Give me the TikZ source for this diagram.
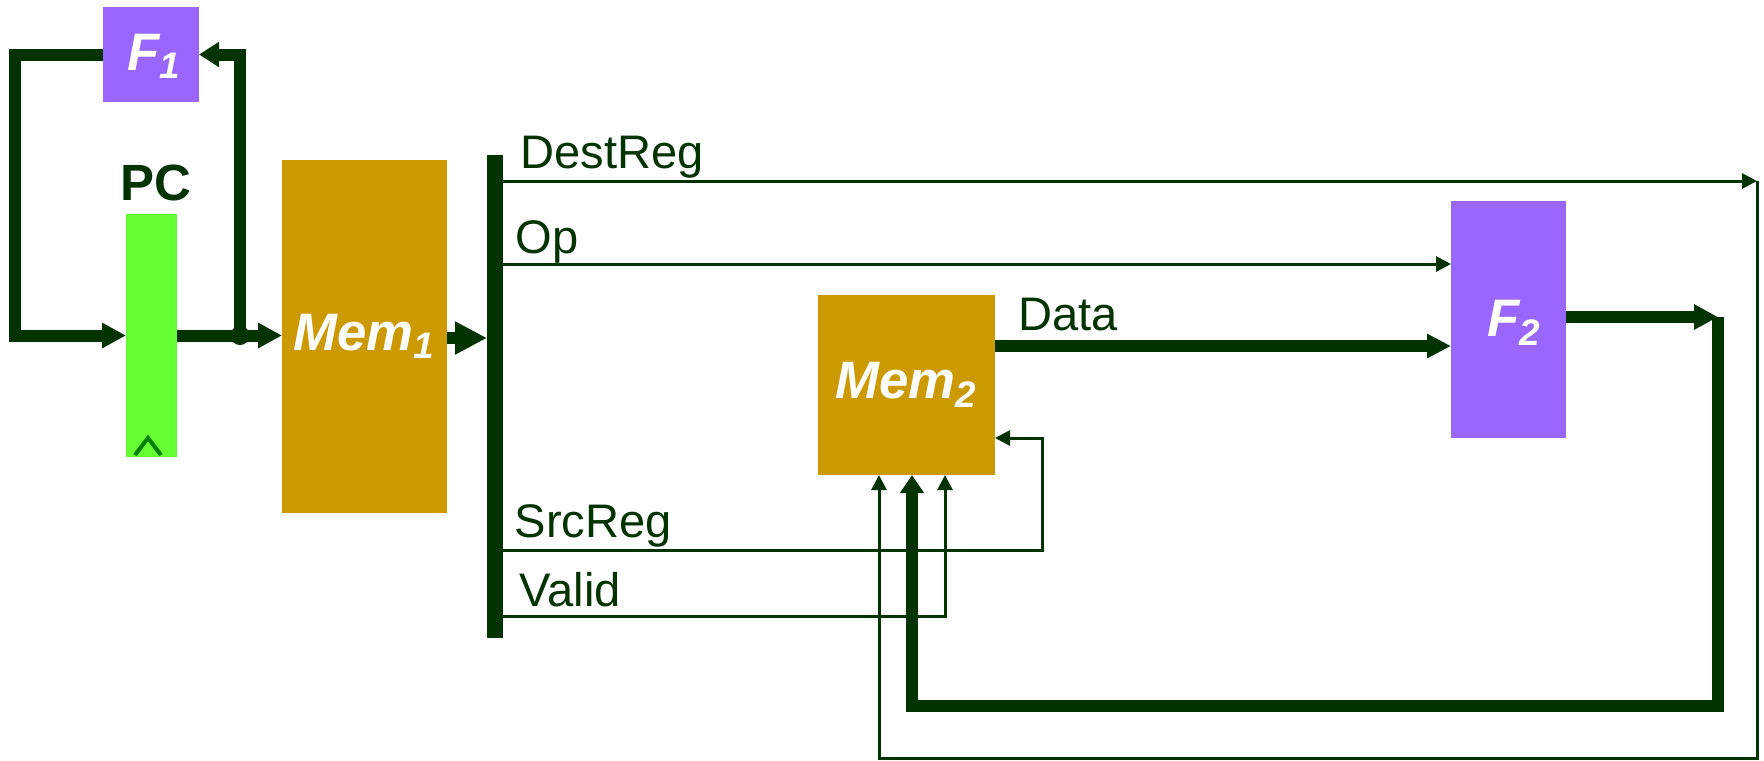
\documentclass[tikz,border=0pt]{standalone}
\usepackage{fontspec}
\setmainfont{Liberation Sans}
\usetikzlibrary{arrows.meta}
\definecolor{dg}{HTML}{003300}
\definecolor{purp}{HTML}{9966FF}
\definecolor{gold}{HTML}{CC9900}
\definecolor{lime}{HTML}{66FF33}
\begin{document}
\begin{tikzpicture}[x=0.1mm,y=-0.1mm,
  blk/.style={rectangle, inner sep=0pt, outer sep=0pt, draw=none},
  wire/.style={dg, line width=0.3mm},
  bus/.style={dg, line width=1.2mm},
  tarr/.style={-{Triangle[length=1.5mm,width=1.5mm]}},
  barr/.style={-{Triangle[length=2.4mm,width=2.4mm]}},
  lbl/.style={text=dg, font=\fontsize{13.4pt}{16pt}\selectfont, inner sep=0pt, anchor=base west},
  unitf/.style={text=white, font=\fontsize{15pt}{18pt}\selectfont\bfseries\itshape},
  unitm/.style={text=white, font=\fontsize{15pt}{18pt}\selectfont\bfseries\itshape}]
\useasboundingbox (0,0) rectangle (1764,760);

% blocks
\node[blk, fill=purp, minimum width=9.6mm, minimum height=9.5mm] (F1) at (151,54.5) {};
\node[unitf, inner sep=0pt] (F1t) at (155,56) {F\textsubscript{1}};
\node[blk, fill=lime, minimum width=5.1mm, minimum height=24.3mm] (PC) at (151.5,335.5) {};
\node[text=dg, font=\fontsize{14.5pt}{17pt}\selectfont\bfseries, inner sep=0pt] (pclbl) at (156,183) {PC};
\node[blk, fill=gold, minimum width=16.5mm, minimum height=35.3mm, unitm] (M1) at (364.5,336.5) {Mem\textsubscript{1}};
\node[blk, fill=dg, minimum width=1.6mm, minimum height=48.3mm] (bar) at (495,396.5) {};
\node[blk, fill=gold, minimum width=17.7mm, minimum height=18mm, unitm] (M2) at (906.5,385) {Mem\textsubscript{2}};
\node[blk, fill=purp, minimum width=11.5mm, minimum height=23.7mm] (F2) at (1508.5,319.5) {};
\node[unitf, inner sep=0pt] (F2t) at (1515,323) {F\textsubscript{2}};

% clock mark
\draw[green!50!black, line width=0.4mm] (135,455) -- (148,438) -- (161,455);

% PC loop
\draw[bus, barr] (F1.west) -- (15,54.5) |- (PC.west);
\draw[bus, barr] (PC.east) -- (PC.east -| M1.west);
\coordinate (j) at (240,335.5);
\draw[bus, -{Triangle[length=2mm,width=2.4mm]}] (j) |- (F1.east);
\fill[dg] (j) circle (0.95mm);
\draw[bus, -{Triangle[length=3.2mm,width=3.1mm]}] (M1.east |- 0,338) -- (bar.west |- 0,338);

% DestReg
\coordinate (dr) at (1757,181);
\draw[wire, tarr] (bar.east |- dr) -- (dr);
\draw[wire, tarr] (dr) -- (1757,758) -- (879,758) -- (879,0 |- M2.south);

% Op
\draw[wire, tarr] (bar.east |- 0,264) -- (F2.west |- 0,264);

% Data
\draw[bus, -{Triangle[length=2.4mm,width=2.3mm]}] (M2.east |- 0,346) -- (F2.west |- 0,346);

% F2 output loop
\coordinate (fo) at (1718,317);
\draw[bus, barr] (F2.east |- fo) -- (fo);
\draw[bus, -{Triangle[length=1.8mm,width=2.3mm]}] (fo) -- (1718,706) -- (912,706) -- (912,0 |- M2.south);

% SrcReg
\draw[wire, tarr] (bar.east |- 0,550) -- (1042,550) -- (1042,438) -- (M2.east |- 0,438);

% Valid
\draw[wire, tarr] (bar.east |- 0,616) -- (945,616) -- (945,0 |- M2.south);

% labels
\node[lbl] (tDest) at (520,168) {DestReg};
\node[lbl] (tOp) at (515,253) {Op};
\node[lbl] (tData) at (1018,330) {Data};
\node[lbl] (tSrc) at (514,537) {SrcReg};
\node[lbl] (tValid) at (519,606) {Valid};
\end{tikzpicture}
\end{document}
